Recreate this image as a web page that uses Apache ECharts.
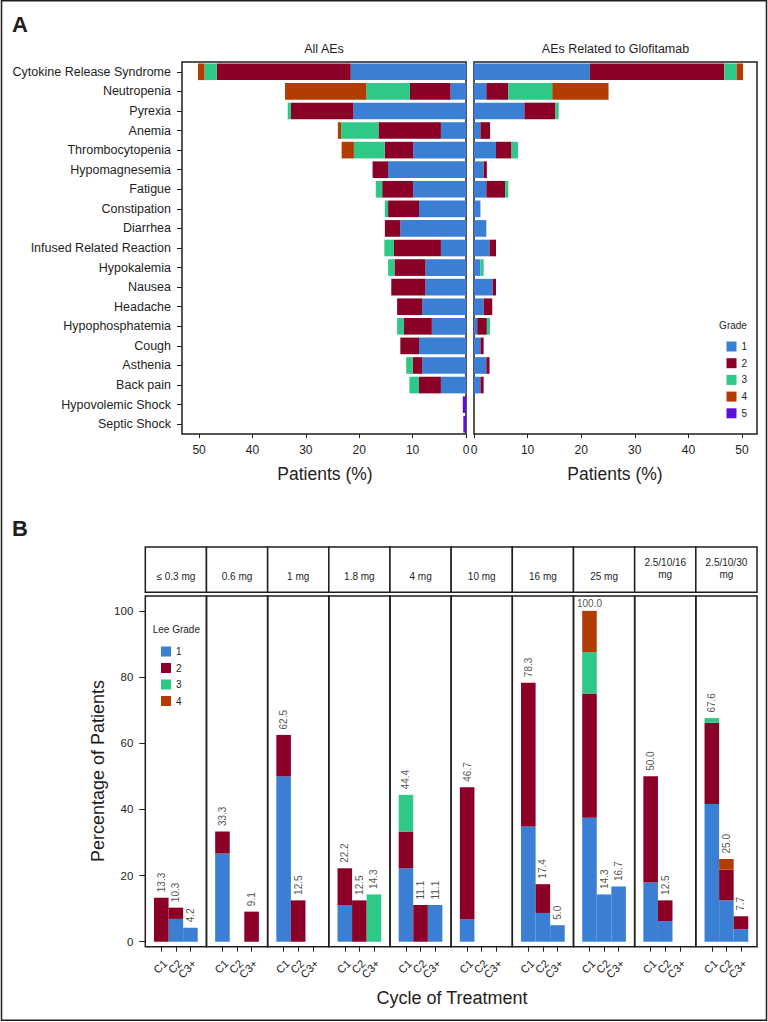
<!DOCTYPE html>
<html><head><meta charset="utf-8">
<script src="https://cdn.jsdelivr.net/npm/echarts@6/dist/echarts.min.js"></script>
<style>html,body{margin:0;padding:0;background:#fff}#chart{width:768px;height:1022px}</style>
</head><body><div id="chart"></div>
<script>
// ---------- Panel A data ----------
const aeCategories = ['Cytokine Release Syndrome','Neutropenia','Pyrexia','Anemia','Thrombocytopenia','Hypomagnesemia','Fatigue','Constipation','Diarrhea','Infused Related Reaction','Hypokalemia','Nausea','Headache','Hypophosphatemia','Cough','Asthenia','Back pain','Hypovolemic Shock','Septic Shock'];
const allGrade1 = [21.6, 2.9, 21.1, 4.7, 9.9, 14.6, 9.9, 8.8, 12.3, 4.7, 7.6, 7.6, 8.2, 6.4, 8.8, 8.2, 4.7, 0, 0];
const allGrade2 = [25.1, 7.6, 11.7, 11.7, 5.3, 2.9, 5.8, 5.8, 2.9, 8.8, 5.8, 6.4, 4.7, 5.3, 3.5, 1.8, 4.1, 0, 0];
const allGrade3 = [2.3, 8.2, 0.6, 7.0, 5.8, 0, 1.2, 0.6, 0, 1.8, 1.2, 0, 0, 1.2, 0, 1.2, 1.8, 0, 0];
const allGrade4 = [1.2, 15.2, 0, 0.6, 2.3, 0, 0, 0, 0, 0, 0, 0, 0, 0, 0, 0, 0, 0, 0];
const allGrade5 = [0, 0, 0, 0, 0, 0, 0, 0, 0, 0, 0, 0, 0, 0, 0, 0, 0, 0.6, 0.5];
const relGrade1 = [21.6, 2.3, 9.4, 1.2, 4.1, 1.8, 2.3, 1.2, 2.3, 2.9, 1.2, 3.5, 1.8, 0.6, 1.2, 2.3, 1.2, 0, 0];
const relGrade2 = [25.1, 4.1, 5.8, 1.8, 2.9, 0.6, 3.5, 0, 0, 1.2, 0, 0.6, 1.6, 1.8, 0.6, 0.6, 0.6, 0, 0];
const relGrade3 = [2.3, 8.2, 0.6, 0, 1.2, 0, 0.6, 0, 0, 0, 0.6, 0, 0, 0.6, 0, 0, 0, 0, 0];
const relGrade4 = [1.2, 10.5, 0, 0, 0, 0, 0, 0, 0, 0, 0, 0, 0, 0, 0, 0, 0, 0, 0];
const relGrade5 = [0, 0, 0, 0, 0, 0, 0, 0, 0, 0, 0, 0, 0, 0, 0, 0, 0, 0, 0];
const patientTicks = [0, 10, 20, 30, 40, 50];
const gradeNames = ['1', '2', '3', '4', '5'];

// ---------- Panel B data ----------
const doses = ['≤ 0.3 mg', '0.6 mg', '1 mg', '1.8 mg', '4 mg', '10 mg', '16 mg', '25 mg', '2.5/10/16\nmg', '2.5/10/30\nmg'];
const cycles = ['C1', 'C2', 'C3+'];
const leeGrade1 = [[0, 6.9, 4.2], [26.7, 0, 0], [50.0, 0, 0], [11.1, 0, 0], [22.2, 0, 11.1], [6.7, 0, 0], [34.8, 8.7, 5.0], [37.5, 14.3, 16.7], [17.9, 6.25, 0], [41.6, 12.5, 3.8]];
const leeGrade2 = [[13.3, 3.4, 0], [6.6, 0, 9.1], [12.5, 12.5, 0], [11.1, 12.5, 0], [11.1, 11.1, 0], [40.0, 0, 0], [43.5, 8.7, 0], [37.5, 0, 0], [32.1, 6.25, 0], [24.6, 9.3, 3.9]];
const leeGrade3 = [[0, 0, 0], [0, 0, 0], [0, 0, 0], [0, 0, 14.3], [11.1, 0, 0], [0, 0, 0], [0, 0, 0], [12.5, 0, 0], [0, 0, 0], [1.4, 0, 0]];
const leeGrade4 = [[0, 0, 0], [0, 0, 0], [0, 0, 0], [0, 0, 0], [0, 0, 0], [0, 0, 0], [0, 0, 0], [12.5, 0, 0], [0, 0, 0], [0, 3.2, 0]];
const cycleTotals = [[13.3, 10.3, 4.2], [33.3, null, 9.1], [62.5, 12.5, null], [22.2, 12.5, 14.3], [44.4, 11.1, 11.1], [46.7, null, null], [78.3, 17.4, 5.0], [100.0, 14.3, 16.7], [50.0, 12.5, null], [67.6, 25.0, 7.7]];
const percentTicks = [0, 20, 40, 60, 80, 100];
const leeNames = ['1', '2', '3', '4'];

// ---------- styles / layout ----------
const gradeColors = ['#3a7fd4', '#8b0026', '#2ec987', '#b23c02', '#5b10d4'];
const INK = '#1e1e1e';
const FONT = '"Liberation Sans", Arial, sans-serif';
const A = { top: 62, height: 372, lLeft: 182, lWidth: 284, rLeft: 474, rWidth: 283, lMax: 53.2, rMax: 52.8 };
const B = { left: 145.3, fw: 61.17, top: 596, height: 350.7, stripTop: 547, stripH: 45.3, barInset: 8.7, barW: 14.57, yMin: -1.5, yMax: 104.5 };

const grids = [], xAxes = [], yAxes = [], series = [], graphics = [];

// Panel A grids
grids.push({ left: A.lLeft, top: A.top, width: A.lWidth, height: A.height, show: true, borderColor: INK, borderWidth: 1.5, outerBoundsMode: 'none' });
grids.push({ left: A.rLeft, top: A.top, width: A.rWidth, height: A.height, show: true, borderColor: INK, borderWidth: 1.5, outerBoundsMode: 'none' });
[[0, A.lMax, true], [1, A.rMax, false]].forEach(([gi, mx, inv]) => {
  xAxes.push({
    gridIndex: gi, type: 'value', min: 0, max: mx, inverse: inv,
    axisLine: { show: false, onZero: false }, splitLine: { show: false },
    axisTick: { show: true, length: 4, customValues: patientTicks, lineStyle: { color: INK } },
    axisLabel: { customValues: patientTicks, fontSize: 12, margin: 10, color: INK, fontFamily: FONT }
  });
  yAxes.push({
    gridIndex: gi, type: 'category', data: aeCategories, inverse: true,
    axisLine: { show: false, onZero: false }, splitLine: { show: false },
    axisTick: { show: gi === 0, length: 5, alignWithLabel: true, interval: 0, lineStyle: { color: INK } },
    axisLabel: { show: gi === 0, interval: 0, fontSize: 12.5, margin: 11, color: INK, fontFamily: FONT }
  });
});
const allSets = [allGrade1, allGrade2, allGrade3, allGrade4, allGrade5];
const relSets = [relGrade1, relGrade2, relGrade3, relGrade4, relGrade5];
[[allSets, 0], [relSets, 1]].forEach(([sets, gi]) => {
  sets.forEach((arr, g) => {
    series.push({
      type: 'bar', name: gradeNames[g], xAxisIndex: gi, yAxisIndex: gi, stack: 'A' + gi,
      data: arr, barCategoryGap: '15%', itemStyle: { color: gradeColors[g] }, silent: true
    });
  });
});

// Panel B: a frame grid (box + y axis) and an inner bar grid per dose facet
const leeSets = [leeGrade1, leeGrade2, leeGrade3, leeGrade4];
doses.forEach((d, f) => {
  const left = B.left + f * B.fw;
  // frame grid
  const fi = grids.length;
  grids.push({ left: left, top: B.top, width: B.fw, height: B.height, show: true, borderColor: INK, borderWidth: 1.5, outerBoundsMode: 'none' });
  xAxes.push({ gridIndex: fi, type: 'value', min: 0, max: 1, show: false });
  yAxes.push({
    gridIndex: fi, type: 'value', min: B.yMin, max: B.yMax, show: f === 0,
    axisLine: { show: false, onZero: false }, splitLine: { show: false },
    axisTick: { show: true, length: 6, customValues: percentTicks, lineStyle: { color: INK } },
    axisLabel: { customValues: percentTicks, fontSize: 11.5, margin: 12, color: INK, fontFamily: FONT }
  });
  // bar grid
  const bi = grids.length;
  grids.push({ left: left + B.barInset, top: B.top, width: B.barW * 3, height: B.height, show: false, outerBoundsMode: 'none' });
  const xi = xAxes.length;
  xAxes.push({
    gridIndex: bi, type: 'category', data: cycles, boundaryGap: true,
    axisLine: { show: false, onZero: false }, splitLine: { show: false },
    axisTick: { show: true, length: 5, alignWithLabel: true, interval: 0, lineStyle: { color: INK } },
    axisLabel: { interval: 0, rotate: 45, align: 'right', verticalAlign: 'top', margin: 11, fontSize: 11, color: INK, fontFamily: FONT }
  });
  const yi = yAxes.length;
  yAxes.push({ gridIndex: bi, type: 'value', min: B.yMin, max: B.yMax, show: false, splitLine: { show: false } });
  leeSets.forEach((set, g) => {
    series.push({
      type: 'bar', name: leeNames[g], xAxisIndex: xi, yAxisIndex: yi, stack: 'B' + f, barCategoryGap: '0%',
      data: set[f], itemStyle: { color: gradeColors[g] }, silent: true
    });
  });
  const labelData = [];
  cycleTotals[f].forEach((t, i) => {
    if (t === null) return;
    const item = { value: [i, t] };
    if (t >= 90) item.label = { rotate: 0, align: 'center', verticalAlign: 'bottom', distance: 2 };
    labelData.push(item);
  });
  series.push({
    type: 'scatter', xAxisIndex: xi, yAxisIndex: yi, symbolSize: 1, silent: true,
    itemStyle: { color: 'rgba(0,0,0,0)' }, data: labelData,
    label: { show: true, position: 'top', distance: 5, rotate: 90, align: 'left', verticalAlign: 'middle', fontSize: 10, color: INK, fontFamily: FONT, formatter: p => p.value[1].toFixed(1) }
  });
  // strip
  graphics.push({ type: 'rect', shape: { x: left, y: B.stripTop, width: B.fw, height: B.stripH }, style: { fill: '#fff', stroke: INK, lineWidth: 1.5 }, silent: true });
  const twoLine = d.indexOf('\n') >= 0;
  graphics.push({ type: 'text', x: left + B.fw / 2, y: twoLine ? 568.5 : 576.5, style: { text: d, fill: INK, font: '10px ' + FONT, align: 'center', verticalAlign: 'middle', lineHeight: 11.6 }, silent: true });
});

// texts and frame
function txt(t, x, y, font, opts, align) {
  return Object.assign({ type: 'text', x: x, y: y, silent: true, style: { text: t, fill: INK, font: font, align: align || 'center', verticalAlign: 'middle' } }, opts || {});
}
graphics.push({ type: 'rect', shape: { x: 1.5, y: 0.75, width: 765, height: 1019.5 }, style: { fill: 'none', stroke: INK, lineWidth: 1.5 }, silent: true, z: 10 });
graphics.push(txt('A', 20, 24.5, 'bold 22px ' + FONT));
graphics.push(txt('B', 20, 528, 'bold 22px ' + FONT));
graphics.push(txt('All AEs', A.lLeft + A.lWidth / 2, 49, '12.5px ' + FONT));
graphics.push(txt('AEs Related to Glofitamab', A.rLeft + A.rWidth / 2, 49, '12.5px ' + FONT));
graphics.push(txt('Patients (%)', A.lLeft + A.lWidth / 2 + 1, 474, '17.5px ' + FONT));
graphics.push(txt('Patients (%)', A.rLeft + A.rWidth / 2 - 0.5, 474, '17.5px ' + FONT));
graphics.push(txt('Grade', 733, 325, '10px ' + FONT));
graphics.push(txt('Lee Grade', 152.7, 629, '10px ' + FONT, null, 'left'));
graphics.push(txt('Percentage of Patients', 97.5, 771, '18px ' + FONT, { rotation: Math.PI / 2 }));
graphics.push(txt('Cycle of Treatment', 452, 998, '18px ' + FONT));

const chart = echarts.init(document.getElementById('chart'), null, { renderer: 'svg', width: 768, height: 1022 });
chart.setOption({
  animation: false,
  backgroundColor: '#fff',
  textStyle: { fontFamily: FONT },
  grid: grids, xAxis: xAxes, yAxis: yAxes, series: series,
  legend: [
    { data: gradeNames, orient: 'vertical', left: 721.5, top: 336.5, itemWidth: 10, itemHeight: 10, itemGap: 6.7, icon: 'rect', selectedMode: false, textStyle: { fontSize: 10, color: INK, fontFamily: FONT } },
    { data: leeNames, orient: 'vertical', left: 156, top: 641.5, itemWidth: 10, itemHeight: 10, itemGap: 6.5, icon: 'rect', selectedMode: false, textStyle: { fontSize: 10, color: INK, fontFamily: FONT } }
  ],
  graphic: graphics
});
</script></body></html>
